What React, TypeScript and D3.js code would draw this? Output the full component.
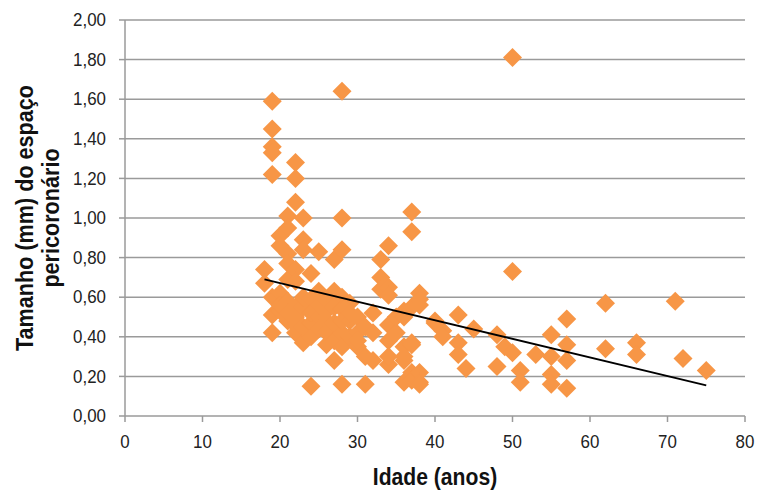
import React from "react";
import * as d3 from "d3";

// Age (years) values by point
const ages: number[] = [
  18, 18,
  19, 19, 19, 19, 19, 19, 19, 19,
  20, 20, 20, 20, 20,
  21, 21, 21, 21, 21, 21, 21, 21,
  22, 22, 22, 22, 22, 22, 22, 22, 22,
  23, 23, 23, 23, 23, 23, 23,
  24, 24, 24, 24, 24, 24,
  25, 25, 25, 25, 25,
  26, 26, 26, 26, 26,
  27, 27, 27, 27, 27, 27,
  28, 28, 28, 28, 28, 28, 28, 28, 28,
  29, 29, 29, 29,
  30, 30, 30, 30,
  31, 31, 31,
  32, 32, 32,
  33, 33, 33,
  34, 34, 34, 34, 34, 34, 34,
  35, 35,
  36, 36, 36, 36, 36, 36,
  37, 37, 37, 37, 37, 37, 37,
  38, 38, 38, 38, 38, 38,
  40, 40,
  41, 41,
  43, 43, 43,
  44,
  45,
  48, 48,
  49,
  50, 50, 50,
  51, 51,
  53,
  55, 55, 55, 55,
  57, 57, 57, 57,
  62, 62,
  66, 66,
  71,
  72,
  75,
];

// Pericoronal space size (mm) for each point, same order as ages
const sizes: number[] = [
  0.74, 0.67,
  1.59, 1.45, 1.36, 1.33, 1.22, 0.60, 0.51, 0.42,
  0.91, 0.86, 0.62, 0.53, 0.56,
  1.01, 0.95, 0.82, 0.77, 0.69, 0.48, 0.58, 0.52,
  1.28, 1.20, 1.08, 0.74, 0.68, 0.42, 0.55, 0.50, 0.46,
  1.00, 0.89, 0.84, 0.37, 0.45, 0.55, 0.60,
  0.72, 0.59, 0.47, 0.15, 0.52, 0.40,
  0.83, 0.63, 0.50, 0.44, 0.56,
  0.59, 0.42, 0.48, 0.53, 0.36,
  0.79, 0.63, 0.47, 0.28, 0.55, 0.38,
  1.64, 1.00, 0.84, 0.60, 0.54, 0.42, 0.16, 0.48, 0.35,
  0.57, 0.48, 0.40, 0.52,
  0.42, 0.35, 0.50, 0.38,
  0.45, 0.16, 0.30,
  0.52, 0.28, 0.42,
  0.79, 0.70, 0.64,
  0.86, 0.65, 0.61, 0.46, 0.38, 0.26, 0.30,
  0.42, 0.50,
  0.53, 0.50, 0.35, 0.28, 0.17, 0.30,
  1.03, 0.93, 0.55, 0.37, 0.36, 0.22, 0.18,
  0.62, 0.59, 0.56, 0.22, 0.17, 0.16,
  0.48, 0.47,
  0.43, 0.40,
  0.51, 0.37, 0.31,
  0.24,
  0.44,
  0.41, 0.25,
  0.35,
  1.81, 0.73, 0.32,
  0.23, 0.17,
  0.31,
  0.41, 0.30, 0.21, 0.16,
  0.49, 0.36, 0.28, 0.14,
  0.57, 0.34,
  0.37, 0.31,
  0.58,
  0.29,
  0.23,
];

// Linear trend line (as drawn in the reference): value at start and end age
const trendAges: number[] = [18, 75];
const trendValues: number[] = [0.69, 0.155];

const xTicks: number[] = [0, 10, 20, 30, 40, 50, 60, 70, 80];
const yTicks: number[] = [0, 0.2, 0.4, 0.6, 0.8, 1.0, 1.2, 1.4, 1.6, 1.8, 2.0];

const xTitle = "Idade (anos)";
const yTitleLines = ["Tamanho (mm) do espaço", "pericoronário"];

const W = 759;
const H = 491;
const M = { left: 125, right: 14, top: 20, bottom: 75 };

export default function App() {
  const x = d3.scaleLinear().domain([0, 80]).range([M.left, W - M.right]);
  const y = d3.scaleLinear().domain([0, 2]).range([H - M.bottom, M.top]);
  const fmt = (v: number) => v.toFixed(2).replace(".", ",");
  const points = ages.map((a, i) => ({ a, v: sizes[i] }));
  const trend = d3
    .line<number>()
    .x((_, i) => x(trendAges[i]))
    .y((v) => y(v));
  const r = 9.5;
  const diamond = (cx: number, cy: number) =>
    `M${cx},${cy - r}L${cx + r},${cy}L${cx},${cy + r}L${cx - r},${cy}Z`;
  const font = "'Liberation Sans', Arial, sans-serif";
  const grid = "#9a9a9a";
  const tickSX = 0.94;
  const titleSX = 0.88;

  return (
    <div style={{ position: "absolute", left: 0, top: 0 }}>
      <svg width={W} height={H} style={{ display: "block", background: "#fff" }}>
        {/* gridlines */}
        {yTicks.map((t) => (
          <line
            key={"g" + t}
            x1={x(0)}
            x2={x(80)}
            y1={y(t)}
            y2={y(t)}
            stroke={grid}
            strokeWidth={1.5}
          />
        ))}
        {/* y axis */}
        <line x1={x(0)} x2={x(0)} y1={y(0)} y2={y(2)} stroke={grid} strokeWidth={1.5} />
        {yTicks.map((t) => (
          <g key={"yt" + t}>
            <line x1={x(0) - 6} x2={x(0)} y1={y(t)} y2={y(t)} stroke={grid} strokeWidth={1.5} />
            <g transform={`translate(${x(0) - 19}, ${y(t)}) scale(${tickSX}, 1)`}>
              <text
                textAnchor="end"
                dominantBaseline="central"
                fontFamily={font}
                fontSize={18}
                fill="#222"
              >
                {fmt(t)}
              </text>
            </g>
          </g>
        ))}
        {/* x axis */}
        {xTicks.map((t) => (
          <g key={"xt" + t}>
            <line x1={x(t)} x2={x(t)} y1={y(0)} y2={y(0) + 6} stroke={grid} strokeWidth={1.5} />
            <g transform={`translate(${x(t)}, ${y(0) + 26}) scale(${tickSX}, 1)`}>
              <text
                textAnchor="middle"
                dominantBaseline="central"
                fontFamily={font}
                fontSize={18}
                fill="#222"
              >
                {t}
              </text>
            </g>
          </g>
        ))}
        {/* points */}
        {points.map((p, i) => (
          <path key={"p" + i} d={diamond(x(p.a), y(p.v))} fill="#F79646" />
        ))}
        {/* trend line */}
        <path d={trend(trendValues) || ""} fill="none" stroke="#000" strokeWidth={1.8} />
        {/* titles */}
        <g transform={`translate(${(x(0) + x(80)) / 2}, 477) scale(${titleSX}, 1)`}>
          <text
            textAnchor="middle"
            dominantBaseline="central"
            fontFamily={font}
            fontWeight="bold"
            fontSize={24}
            fill="#111"
          >
            {xTitle}
          </text>
        </g>
        <g transform={`translate(38, ${(y(0) + y(2)) / 2}) rotate(-90) scale(0.9, 1)`}>
          {yTitleLines.map((l, i) => (
            <text
              key={l}
              x={0}
              y={(i - 0.5) * 26}
              textAnchor="middle"
              dominantBaseline="central"
              fontFamily={font}
              fontWeight="bold"
              fontSize={24}
              fill="#111"
            >
              {l}
            </text>
          ))}
        </g>
      </svg>
    </div>
  );
}
